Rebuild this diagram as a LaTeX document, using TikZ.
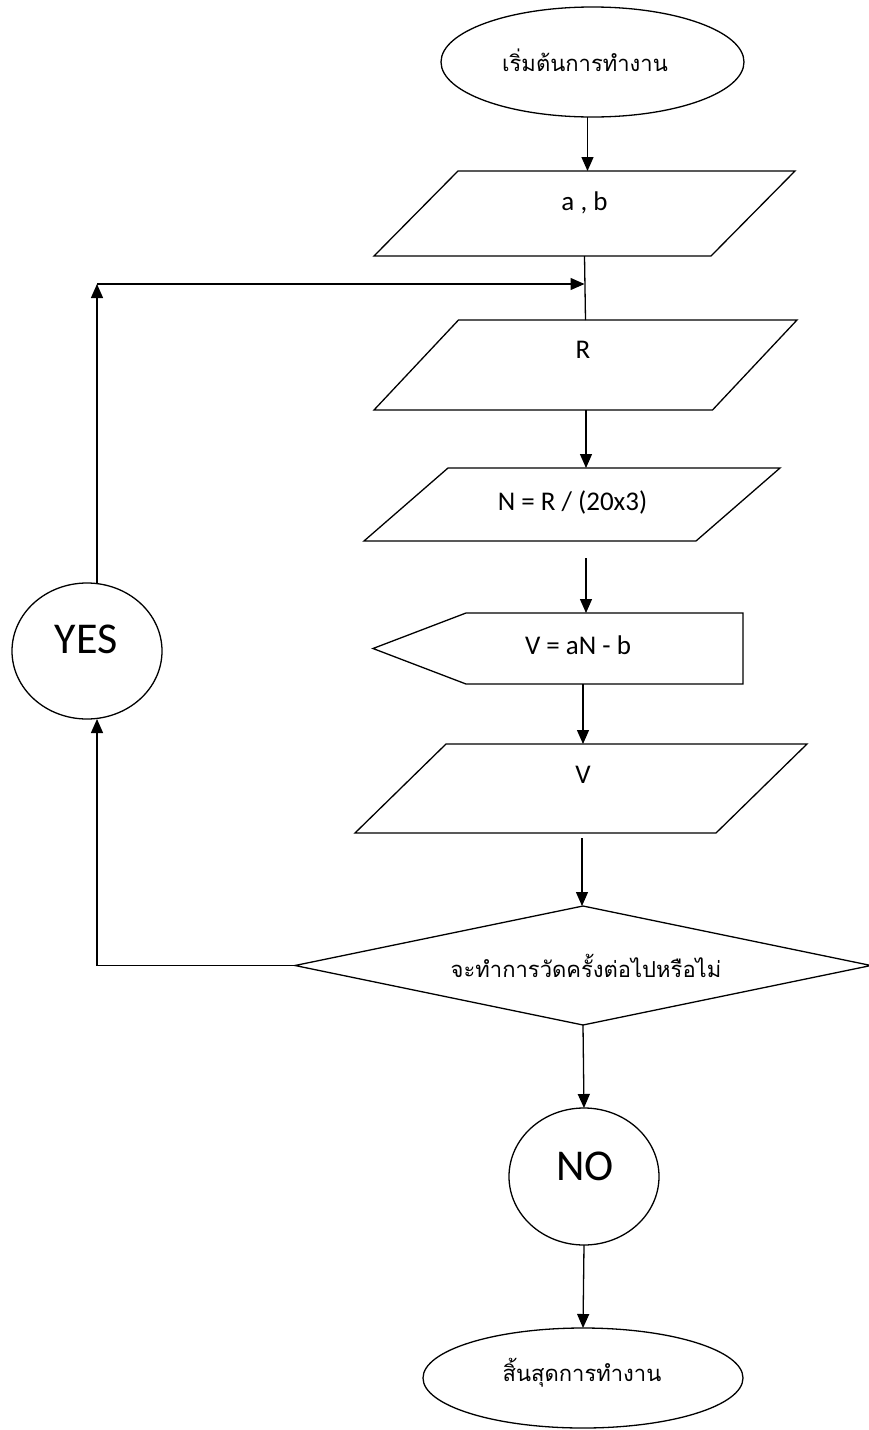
\documentclass[tikz,border=0pt]{standalone}
\usepackage{fontspec}
\setmainfont{Carlito}
\newfontfamily\thaifont[Script=Thai]{Loma}
\usetikzlibrary{shapes.geometric,arrows.meta}
\tikzset{
  ln/.style={line width=1.3pt},
  arr/.style={ln,-{Triangle[length=14pt,width=12pt]}},
  box/.style={inner sep=0pt, outer sep=0pt},
  oval/.style={ellipse, draw, ln, inner sep=0pt, outer sep=0pt},
  txt/.style={inner sep=0pt, font=\fontsize{27}{30}\selectfont},
  thtxt/.style={inner sep=0pt, font=\thaifont\fontsize{22}{26}\selectfont},
  big/.style={inner sep=0pt, font=\fontsize{44}{48}\selectfont},
}
% parallelogram drawn on the bounding box of a named node: #1 node, #2 slant offset
\newcommand{\parashape}[2]{\draw[ln] (#1.south west) -- ([xshift=-#2]#1.south east) -- (#1.north east) -- ([xshift=#2]#1.north west) -- cycle;}
\begin{document}
\begin{tikzpicture}[x=1pt,y=-1pt]
\useasboundingbox[fill=white] (0,0) rectangle (869,1430);
% shapes
\node[oval, minimum width=303pt, minimum height=110pt] (start) at (592.5,62) {};
\node[thtxt] (starttxt) at (585,60) {เริ่มต้นการทำงาน};

\node[box, minimum width=421pt, minimum height=85pt] (ab) at (584.5,213.5) {};
\parashape{ab}{84pt}
\node[txt] (abtxt) at (584.5,203) {a , b};

\node[box, minimum width=423pt, minimum height=90pt] (r) at (585.5,365) {};
\parashape{r}{84.5pt}
\node[txt] (rtxt) at (583,350) {R};

\node[box, minimum width=416pt, minimum height=73pt] (n) at (572,504.5) {};
\parashape{n}{84pt}
\node[txt] (ntxt) at (572.5,502) {N = R / (20x3)};

\node[box, minimum width=277pt, minimum height=71pt] (calc) at (604.5,648.5) {};
\draw[ln] (calc.north west) -- (calc.north east) -- (calc.south east) -- (calc.south west) -- ([xshift=-93pt]calc.west) -- cycle;
\node[txt] (calctxt) at (578,645) {V = aN - b};

\node[box, minimum width=452pt, minimum height=89pt] (v) at (581,788.5) {};
\parashape{v}{91pt}
\node[txt] (vtxt) at (583,775) {V};

\node[diamond, draw, ln, inner sep=0pt, outer sep=0pt, minimum width=576pt, minimum height=119pt] (dec) at (583,965.5) {};
\node[thtxt] (dectxt) at (586,966) {จะทำการวัดครั้งต่อไปหรือไม่};

\node[oval, minimum width=150pt, minimum height=136pt] (yes) at (87,651) {};
\node[big] (yestxt) at (86,639) {YES};

\node[oval, minimum width=150pt, minimum height=137pt] (no) at (584,1176.5) {};
\node[big] (notxt) at (585,1166) {NO};

\node[oval, minimum width=320pt, minimum height=100pt] (end) at (583,1378) {};
\node[thtxt] (endtxt) at (582,1373) {สิ้นสุดการทำงาน};

% helper coordinates for vertical connector lines
\coordinate (loopc) at (97,284);
\coordinate (c586) at (586,0);
\coordinate (c583) at (583,0);
\coordinate (c582) at (582,0);

% connectors
\draw[arr] ([xshift=-5pt]start.south) -- ([xshift=-5pt]start.south |- ab.north);
\draw[ln] (ab.south) -- (r.north);
\draw[arr] (yes.north -| loopc) -- (loopc);
\draw[arr] (loopc) -- ([xshift=-1pt]loopc -| r.north);
\draw[arr] (r.south -| c586) -- (n.north -| c586);
\draw[arr] ([yshift=-17pt]n.south -| c586) -- (calc.north -| c586);
\draw[arr] (calc.south -| c583) -- (v.north -| c583);
\draw[arr] ([yshift=-5pt]v.south -| c582) -- (dec.north -| c582);
\draw[arr] (dec.south) -- (no.north);
\draw[arr] (no.south) -- (end.north);
\draw[arr] (dec.west) -- (dec.west -| loopc) -- (yes.south -| loopc);
\end{tikzpicture}
\end{document}
